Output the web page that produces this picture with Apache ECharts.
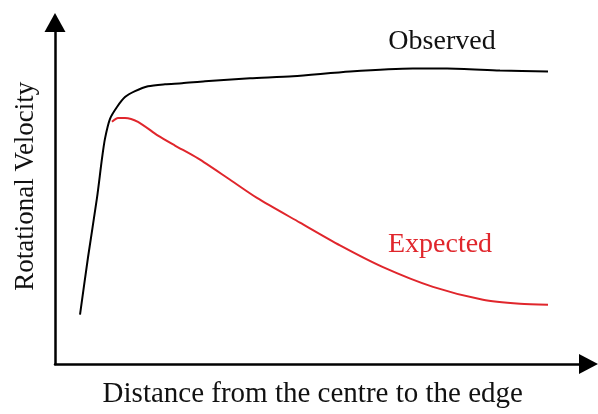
<!DOCTYPE html>
<html>
<head>
<meta charset="utf-8">
<script src="https://cdn.jsdelivr.net/npm/echarts@6/dist/echarts.min.js"></script>
<style>
  html, body { margin: 0; padding: 0; background: #fff; }
  #chart { width: 598px; height: 414px; }
</style>
</head>
<body>
<div id="chart"></div>
<script>
  // values, both axes on a 0-100 scale (no ticks shown)
  var observedX = [4.69, 6.19, 7.87, 8.81, 9.37, 10.31, 11.62, 13.12, 15.0, 17.43, 20.62, 23.8, 28.12, 36.55, 44.61, 55.3, 67.1, 73.48, 83.41, 92.41];
  var observedY = [14.47, 31.26, 48.63, 60.2, 66.0, 71.78, 75.25, 78.15, 79.88, 81.33, 81.91, 82.2, 82.78, 83.65, 84.23, 85.67, 86.54, 86.54, 85.96, 85.67];

  var expectedX = [10.68, 11.81, 13.12, 15.56, 19.31, 22.49, 26.8, 32.4, 37.86, 45.92, 53.42, 61.48, 70.85, 80.22, 87.16, 92.41];
  var expectedY = [70.91, 72.07, 72.07, 70.91, 66.86, 63.97, 60.2, 54.4, 48.63, 41.39, 34.73, 28.36, 22.58, 18.81, 17.66, 17.37];

  var font = "'Liberation Serif', 'Times New Roman', serif";
  var red = '#e0262c';

  function pairs (xs, ys) {
    var out = []
    for (var i = 0; i < xs.length; i++) {
      out.push([xs[i], ys[i]])
    }
    return out
  }

  var myChart = echarts.init(document.getElementById('chart'), null, { renderer: 'canvas' });

  var option = {
    animation: false,
    grid: { left: 55, right: 9.5, top: 22.5, bottom: 46 },
    xAxis: {
      type: 'value',
      min: 0,
      max: 100,
      name: 'Distance from the centre to the edge',
      nameLocation: 'middle',
      nameGap: 16,
      nameTextStyle: { fontFamily: font, fontSize: 29, color: '#111', padding: [0, 18, 0, 0] },
      axisLine: {
        onZero: false,
        symbol: ['none', 'triangle'],
        symbolSize: [20, 19],
        lineStyle: { color: '#000', width: 2.5 }
      },
      axisTick: { show: false },
      axisLabel: { show: false },
      splitLine: { show: false }
    },
    yAxis: {
      type: 'value',
      min: 0,
      max: 100,
      name: 'Rotational Velocity',
      nameLocation: 'middle',
      nameGap: 16,
      nameTextStyle: { fontFamily: font, fontSize: 27, color: '#111', padding: [0, 0, 0, 14] },
      axisLine: {
        show: true,
        onZero: false,
        symbol: ['none', 'triangle'],
        symbolSize: [21, 19],
        lineStyle: { color: '#000', width: 2.5 }
      },
      axisTick: { show: false },
      axisLabel: { show: false },
      splitLine: { show: false }
    },
    series: [
      {
        name: 'Observed',
        type: 'line',
        data: pairs(observedX, observedY),
        smooth: 0.25,
        symbol: 'none',
        lineStyle: { color: '#000', width: 2 }
      },
      {
        name: 'Expected',
        type: 'line',
        data: pairs(expectedX, expectedY),
        smooth: 0.25,
        symbol: 'none',
        lineStyle: { color: red, width: 2 }
      }
    ],
    graphic: [
      {
        type: 'text',
        x: 442,
        y: 42,
        style: { text: 'Observed', font: '28px ' + font, fill: '#111', align: 'center', verticalAlign: 'middle' }
      },
      {
        type: 'text',
        x: 440,
        y: 245,
        style: { text: 'Expected', font: '28px ' + font, fill: red, align: 'center', verticalAlign: 'middle' }
      }
    ]
  };

  myChart.setOption(option);
</script>
</body>
</html>
